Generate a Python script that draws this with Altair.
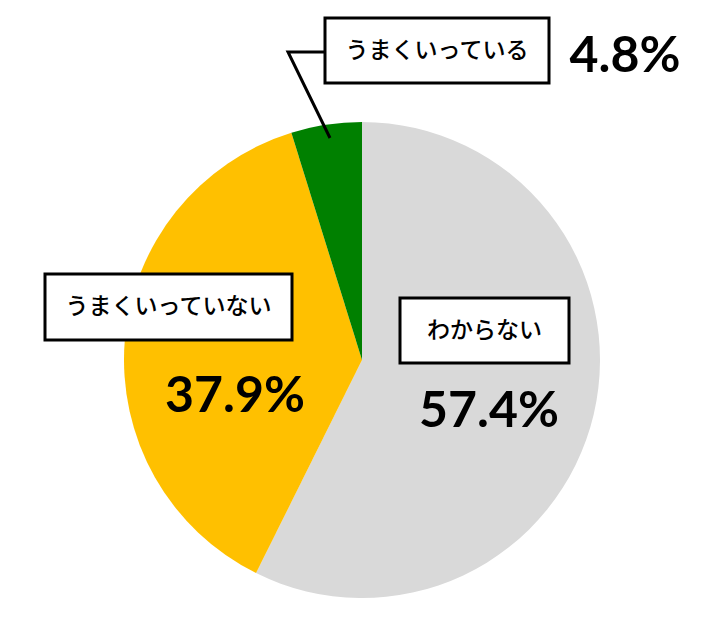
import altair as alt
import pandas as pd

# Survey answers, in drawing order (clockwise from 12 o'clock)
categories = ["わからない", "うまくいっていない", "うまくいっている"]
shares = [57.4, 37.9, 4.8]
colors = ["#D9D9D9", "#FFC000", "#008000"]

# Annotation layout (pixel coordinates in a 719x628 canvas)
box_x0 = [400, 45, 325]
box_x1 = [569, 292, 549]
box_y0 = [298, 274, 18]
box_y1 = [363, 340, 83]
pct_x = [489, 235, 625]
pct_y = [427, 412, 72]
leader_x = [325, 288, 330]
leader_y = [52, 52, 138]

W, H = 719, 628
CX, CY, R = 362, 360, 238

slices = pd.DataFrame({"category": categories, "share": shares, "idx": range(3)})
boxes = pd.DataFrame({
    "category": categories,
    "x0": box_x0, "x1": box_x1, "y0": box_y0, "y1": box_y1,
    "tx": [(a + b) / 2 for a, b in zip(box_x0, box_x1)],
    "ty": [(a + b) / 2 for a, b in zip(box_y0, box_y1)],
})
pcts = pd.DataFrame({
    "label": [f"{v:.1f}%" for v in shares],
    "x": pct_x, "y": pct_y,
})
leader = pd.DataFrame({"x": leader_x, "y": leader_y, "o": range(3)})

xs = alt.Scale(domain=[0, W], range=[0, W])
ys = alt.Scale(domain=[0, H], range=[0, H])

pie = alt.Chart(slices).mark_arc(outerRadius=R).encode(
    theta=alt.Theta("share:Q", stack=True),
    order=alt.Order("idx:Q"),
    color=alt.Color("category:N", scale=alt.Scale(domain=categories, range=colors), legend=None),
    x=alt.value(CX),
    y=alt.value(CY),
)

lead = alt.Chart(leader).mark_line(color="black", strokeWidth=3).encode(
    x=alt.X("x:Q", scale=xs, axis=None),
    y=alt.Y("y:Q", scale=ys, axis=None),
    order="o:Q",
)

rects = alt.Chart(boxes).mark_rect(fill="white", stroke="black", strokeWidth=3).encode(
    x=alt.X("x0:Q", scale=xs, axis=None), x2="x1:Q",
    y=alt.Y("y0:Q", scale=ys, axis=None), y2="y1:Q",
)

names = alt.Chart(boxes).mark_text(
    font="Noto Sans CJK JP", fontSize=23, fontWeight=500, color="black",
    align="center", baseline="middle",
).encode(
    x=alt.X("tx:Q", scale=xs, axis=None),
    y=alt.Y("ty:Q", scale=ys, axis=None),
    text="category:N",
)

values = alt.Chart(pcts).mark_text(
    font="Lato", fontSize=50, fontWeight="bold", color="black",
    align="center", baseline="alphabetic",
).encode(
    x=alt.X("x:Q", scale=xs, axis=None),
    y=alt.Y("y:Q", scale=ys, axis=None),
    text="label:N",
)

chart = alt.layer(pie, lead, rects, names, values).properties(
    width=W, height=H, padding=0, autosize="none", background="white"
).configure_view(stroke=None)

chart.save("out.html", embed_options={"renderer": "svg", "actions": False})
